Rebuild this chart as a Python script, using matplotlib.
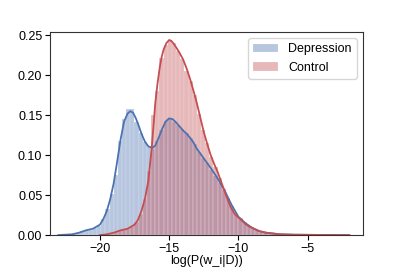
import numpy as np
import matplotlib
matplotlib.use('Agg')
import matplotlib.pyplot as plt

plt.rcParams['font.family'] = ['Liberation Sans', 'DejaVu Sans']

# histogram bins (width 0.3, first edge -23.2)
bin_start = -23.2
bin_width = 0.3
hist_dep = [
    0.0003, 0.0005, 0.0008, 0.0015, 0.002, 0.003, 0.005, 0.006, 0.007, 0.009,
    0.012, 0.020, 0.033, 0.052, 0.075, 0.118, 0.145, 0.158, 0.158, 0.142,
    0.128, 0.116, 0.110, 0.108, 0.118, 0.132, 0.143, 0.145, 0.142, 0.138,
    0.133, 0.128, 0.122, 0.114, 0.104, 0.097, 0.090, 0.082, 0.074, 0.065,
    0.056, 0.046, 0.037, 0.027, 0.020, 0.015, 0.011, 0.008, 0.006, 0.004,
    0.003, 0.002, 0.0015, 0.001, 0.0008, 0.0006, 0.0005, 0.0004, 0.0003, 0.0003,
]
hist_ctrl = [
    0, 0, 0, 0, 0, 0, 0, 0, 0, 0,
    0.0003, 0.0005, 0.001, 0.002, 0.004, 0.006, 0.008, 0.009, 0.011, 0.016,
    0.026, 0.045, 0.080, 0.150, 0.180, 0.222, 0.238, 0.244, 0.240, 0.230,
    0.220, 0.205, 0.193, 0.175, 0.152, 0.132, 0.115, 0.098, 0.085, 0.072,
    0.058, 0.045, 0.034, 0.026, 0.021, 0.016, 0.012, 0.009, 0.006, 0.004,
    0.003, 0.002, 0.0015, 0.001, 0.0008, 0.0006, 0.0005, 0.0004, 0.0003, 0.0003,
]

# KDE curves
kde_dep_x = [-23, -22.5, -22, -21.5, -21, -20.5, -20, -19.75, -19.5, -19.25, -19, -18.75,
             -18.5, -18.25, -18, -17.8, -17.6, -17.4, -17.2, -17, -16.75, -16.5, -16.2,
             -16, -15.75, -15.5, -15.25, -15, -14.75, -14.5, -14.25, -14, -13.75, -13.5,
             -13.25, -13, -12.5, -12, -11.5, -11, -10.5, -10, -9.5, -9, -8.5, -8, -7,
             -6, -4, -2]
kde_dep_y = [0.0, 0.0005, 0.001, 0.003, 0.006, 0.008, 0.013, 0.02, 0.03, 0.045, 0.065, 0.092,
             0.12, 0.142, 0.152, 0.155, 0.153, 0.146, 0.137, 0.127, 0.117, 0.111, 0.109,
             0.112, 0.122, 0.133, 0.142, 0.146, 0.145, 0.141, 0.136, 0.131, 0.127, 0.122,
             0.116, 0.108, 0.096, 0.084, 0.071, 0.056, 0.038, 0.023, 0.015, 0.009, 0.005,
             0.003, 0.001, 0.0005, 0.0002, 0.0]
kde_ctrl_x = [-20, -19.5, -19, -18.5, -18, -17.5, -17.25, -17, -16.75, -16.5, -16.25, -16,
              -15.85, -15.7, -15.55, -15.4, -15.2, -15, -14.85, -14.7, -14.5, -14.25, -14,
              -13.75, -13.5, -13.25, -13, -12.75, -12.5, -12.25, -12, -11.75, -11.5, -11.25,
              -11, -10.75, -10.5, -10.25, -10, -9.8, -9.5, -9.25, -9, -8.5, -8, -7, -6, -4, -2]
kde_ctrl_y = [0.0, 0.001, 0.003, 0.006, 0.008, 0.013, 0.019, 0.030, 0.045, 0.068, 0.110, 0.165,
              0.188, 0.207, 0.222, 0.232, 0.240, 0.244, 0.243, 0.240, 0.235, 0.228, 0.220,
              0.209, 0.196, 0.181, 0.165, 0.147, 0.129, 0.114, 0.100, 0.089, 0.079, 0.067,
              0.055, 0.043, 0.033, 0.026, 0.022, 0.019, 0.014, 0.011, 0.009, 0.005, 0.003,
              0.001, 0.0005, 0.0002, 0.0]

blue = '#4C72B0'
red = '#C44E52'

fig = plt.figure(figsize=(4.03, 2.69), dpi=100)
ax = fig.add_axes([0.124, 0.126, 0.777, 0.755])

lefts = bin_start + bin_width * np.arange(len(hist_dep))
ax.bar(lefts, hist_dep, width=bin_width, align='edge', color=blue, alpha=0.4,
       edgecolor='white', linewidth=0.3, label='Depression')
ax.bar(lefts, hist_ctrl, width=bin_width, align='edge', color=red, alpha=0.4,
       edgecolor='white', linewidth=0.3, label='Control')
ax.plot(kde_dep_x, kde_dep_y, color=blue, lw=1.3)
ax.plot(kde_ctrl_x, kde_ctrl_y, color=red, lw=1.3)

ax.set_xlim(-23.6, -1.0)
ax.set_ylim(0, 0.254)
ax.set_xticks([-20, -15, -10, -5])
ax.set_yticks([0.0, 0.05, 0.10, 0.15, 0.20, 0.25])
ax.set_yticklabels(['0.00', '0.05', '0.10', '0.15', '0.20', '0.25'])
ax.tick_params(labelsize=9, length=3.5, pad=2)
for s in ax.spines.values():
    s.set_color('#333333')
ax.set_xlabel('log(P(w_i|D))', fontsize=9, labelpad=0)
ax.legend(loc='upper right', fontsize=9, frameon=True)

fig.savefig('out.png', dpi=100)
